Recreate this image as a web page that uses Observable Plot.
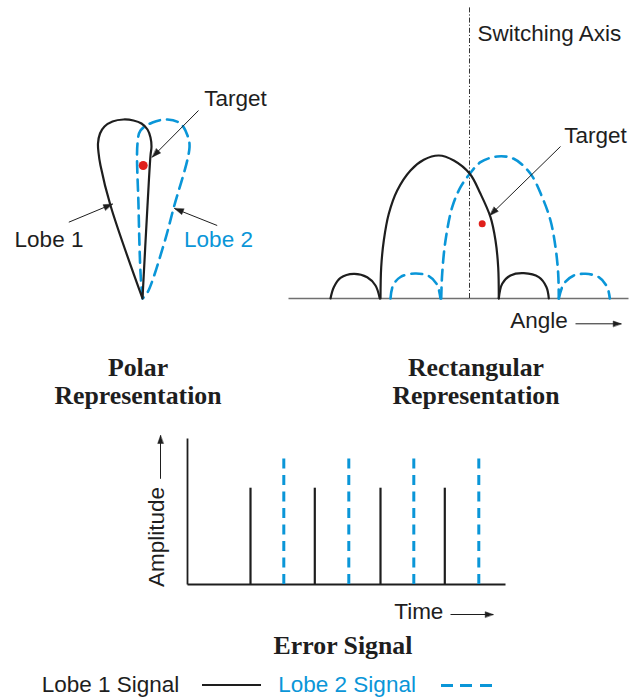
<!DOCTYPE html>
<html><head><meta charset="utf-8">
<script src="https://cdn.jsdelivr.net/npm/d3@7"></script>
<script src="https://cdn.jsdelivr.net/npm/@observablehq/plot@0.6"></script>
<style>
body{margin:0;background:#fff;}
#root{position:relative;width:629px;height:700px;overflow:hidden;background:#fff;}
.t{position:absolute;white-space:nowrap;line-height:1;}
.serif{font-family:"Liberation Serif","Times New Roman",serif;font-weight:bold;font-size:25.8px;color:#1e1e1e;text-align:center;width:300px;}
.sans{font-family:"Liberation Sans",Arial,sans-serif;font-size:22.5px;}
</style></head><body><div id="root"></div>
<script>
const INK = "#1e1e1e", BLUE = "#0a96d8", RED = "#e0201b", GRAY = "#707070";
const SANS = "Liberation Sans, Arial, sans-serif";

// ---------- Polar representation (x: offset, y: gain along boresight) ----------
const polarLobe1 = [[0,0],[-32,93],[-42,133],[-44,146],[-44.5,155],[-42.5,165],[-38,172],[-30,177],[-19,179],[-9,178],[-1,175],[5,169],[8,161],[9,152],[8,143],[5,93],[0,0]];
const polarLobe2 = [[0,0],[-2,26],[-4,93],[-5,155],[-2,168],[10,176],[25,179],[38,175],[45,163],[47,151],[31,90],[21,53],[5,6],[0,0]];
const polarTarget = [{x:0.7, y:133}];
const polarLabelsInk = [{x:93, y:199.5, text:"Target"}, {x:-93.5, y:58.5, text:"Lobe 1"}];
const polarLabelsBlue = [{x:76, y:58.5, text:"Lobe 2"}];
const polarArrows = [{x1:56,y1:188,x2:9.7,y2:141.3},{x1:-73.7,y1:76.3,x2:-30,y2:94.5},{x1:74.7,y1:73,x2:32,y2:90}];

// ---------- Rectangular representation (x: angle, y: gain) ----------
const rectLobe1 = [
  [[-139,0],[-135.7,11.3],[-129,20.7],[-115.7,24.7],[-102.3,21.3],[-94,13],[-89.7,0]],
  [[-89,0],[-88.3,31.3],[-85.7,58],[-80.7,84.7],[-72.3,108],[-59,128],[-45.7,138.7],[-30.7,143],[-15.7,138],[0.3,124.7],[11,104.7],[21,81.3],[26,58],[28.7,31.3],[29.3,0]],
  [[29.3,0],[32.7,14.7],[41,23],[54.3,25.3],[69.3,21.3],[77,11.3],[79.3,0]]
];
const rectLobe2 = [
  [[-79,0],[-76.5,13],[-69,21.5],[-54.5,25],[-41,22.5],[-32.5,14],[-29,0]],
  [[-28.3,0],[-27.3,25],[-24,58],[-17.3,91.3],[-9,111.3],[0.3,124.7],[11,136.3],[27.7,142],[44.3,139.7],[61,124.7],[72.7,101.3],[81,78],[86,51.3],[88.7,24.7],[89.3,0]],
  [[89.3,0],[94.3,14.7],[104.3,23],[116,24.7],[129.3,21.3],[137.7,11.3],[140.3,0]]
];
const angleAxis = [{x1:-181, x2:159, y:0}];
const switchingAxis = [{x:0, y1:0, y2:291}];
const rectTarget = [{x:12.7, y:74.7}];
const rectLabelsMid = [{x:126, y:162.5, text:"Target"}, {x:69.5, y:-22.5, text:"Angle"}];
const rectLabelsStart = [{x:8, y:264.5, text:"Switching Axis"}];
const rectArrows = [{x1:91,y1:152,x2:20.3,y2:83}];
const angleArrow = [{x1:106,y1:-25.3,x2:151.7,y2:-25.3}];

// ---------- Error signal (x: time, y: amplitude) ----------
const lobe1Times = [63, 127.3, 193, 257.3];
const lobe1Amp = 96.3;
const lobe2Times = [96.3, 161.3, 226.3, 291.3];
const lobe2Amp = 130.7;
const timeAxis = [{x1:0, x2:318, y:0}];
const ampAxis = [{x:0, y1:0, y2:146}];
const errLabels = [{x:231.3, y:-27, text:"Time", rotate:0}, {x:-30.5, y:47.5, text:"Amplitude", rotate:-90}];
const errArrows = [{x1:263,y1:-30,x2:305.7,y2:-30},{x1:-27,y1:105.7,x2:-27,y2:149}];

// ---------- titles & legend ----------
const titles = [
  {cx:138, base:377, text:"Polar"}, {cx:138, base:405, text:"Representation"},
  {cx:476, base:377, text:"Rectangular"}, {cx:476, base:405, text:"Representation"},
  {cx:343, base:655, text:"Error Signal"}
];
const legendItems = [
  {label:"Lobe 1 Signal", color:INK, textLeft:41.7, swLeft:202, swWidth:59, dashed:false},
  {label:"Lobe 2 Signal", color:BLUE, textLeft:278.3, swLeft:441, swWidth:51, dashed:true}
];
const legendBase = 693, legendLineY = 685;

const root = document.getElementById("root");

function heads(arrows, len, half) {
  return arrows.flatMap((a, i) => {
    const dx = a.x2 - a.x1, dy = a.y2 - a.y1, L = Math.hypot(dx, dy), ux = dx / L, uy = dy / L;
    const bx = a.x2 - ux * len, by = a.y2 - uy * len;
    return [{x:a.x2, y:a.y2, k:i}, {x:bx - uy * half, y:by + ux * half, k:i}, {x:bx + uy * half, y:by - ux * half, k:i}];
  });
}
function arrowMarks(arrows, len, half) {
  return [
    Plot.link(arrows, {x1:"x1", y1:"y1", x2:"x2", y2:"y2", stroke:INK, strokeWidth:1}),
    Plot.line(heads(arrows, len, half), {x:"x", y:"y", z:"k", curve:"linear-closed", fill:INK, stroke:INK, strokeWidth:0.5})
  ];
}
function lobe(pts, color, dashed, w) {
  return Plot.line(pts, {x:d => d[0], y:d => d[1], curve:"catmull-rom", stroke:color, strokeWidth:w,
    strokeDasharray: dashed ? "11,7" : null, strokeLinejoin:"round"});
}
function panel({left, top, width, height, x, y, marks}) {
  const svg = Plot.plot({width, height, margin:0, x:{domain:x, axis:null}, y:{domain:y, axis:null},
    style:{background:"transparent", overflow:"visible"}, marks});
  svg.style.position = "absolute"; svg.style.left = left + "px"; svg.style.top = top + "px";
  root.appendChild(svg);
}

// Polar panel
panel({left:0, top:80, width:285, height:235, x:[-142,143], y:[-17,218], marks:[
  lobe(polarLobe2, BLUE, true, 2.6),
  lobe(polarLobe1, INK, false, 2.2),
  Plot.dot(polarTarget, {x:"x", y:"y", r:4.5, fill:RED}),
  ...arrowMarks(polarArrows, 9, 3),
  Plot.text(polarLabelsInk, {x:"x", y:"y", text:"text", fill:INK, fontSize:22.5, fontFamily:SANS}),
  Plot.text(polarLabelsBlue, {x:"x", y:"y", text:"text", fill:BLUE, fontSize:22.5, fontFamily:SANS})
]});

// Rectangular panel
panel({left:285, top:0, width:344, height:340, x:[-184,160], y:[-42,298], marks:[
  Plot.link(angleAxis, {x1:"x1", x2:"x2", y1:"y", y2:"y", stroke:GRAY, strokeWidth:1.6}),
  Plot.ruleX(switchingAxis, {x:"x", y1:"y1", y2:"y2", stroke:INK, strokeWidth:0.9, strokeDasharray:"5,2,1.2,2"}),
  ...rectLobe2.map(p => lobe(p, BLUE, true, 2.6)),
  ...rectLobe1.map(p => lobe(p, INK, false, 2.2)),
  Plot.dot(rectTarget, {x:"x", y:"y", r:3.5, fill:RED}),
  ...arrowMarks(rectArrows, 9, 3),
  ...arrowMarks(angleArrow, 8, 2.8),
  Plot.text(rectLabelsMid, {x:"x", y:"y", text:"text", textAnchor:"middle", fill:INK, fontSize:22.5, fontFamily:SANS}),
  Plot.text(rectLabelsStart, {x:"x", y:"y", text:"text", textAnchor:"start", fill:INK, fontSize:22.5, fontFamily:SANS})
]});

// Error signal panel
panel({left:140, top:425, width:370, height:205, x:[-47,323], y:[-46,159], marks:[
  Plot.link(timeAxis, {x1:"x1", x2:"x2", y1:"y", y2:"y", stroke:INK, strokeWidth:1.8}),
  Plot.link(ampAxis, {x1:"x", x2:"x", y1:"y1", y2:"y2", stroke:INK, strokeWidth:1.8}),
  Plot.ruleX(lobe1Times, {x:d => d, y1:0, y2:lobe1Amp, stroke:INK, strokeWidth:2.2}),
  Plot.ruleX(lobe2Times, {x:d => d, y1:0, y2:lobe2Amp, stroke:BLUE, strokeWidth:3, strokeDasharray:"10,6.5"}),
  ...arrowMarks(errArrows, 8, 2.8),
  Plot.text(errLabels, {x:"x", y:"y", text:"text", rotate:"rotate", fill:INK, fontSize:22.5, fontFamily:SANS})
]});

// Titles
for (const t of titles) {
  const d = document.createElement("div");
  d.className = "t serif"; d.textContent = t.text;
  d.style.left = (t.cx - 150) + "px"; d.style.top = (t.base - 0.8375 * 25.8) + "px";
  root.appendChild(d);
}
// Legend
for (const it of legendItems) {
  const d = document.createElement("div");
  d.className = "t sans"; d.textContent = it.label; d.style.color = it.color;
  d.style.left = it.textLeft + "px"; d.style.top = (legendBase - 0.8465 * 22.5) + "px";
  root.appendChild(d);
  const s = document.createElement("div");
  const th = it.dashed ? 3 : 2.5;
  s.style.cssText = `position:absolute;left:${it.swLeft}px;top:${legendLineY - th/2}px;width:${it.swWidth}px;height:${th}px;` +
    (it.dashed ? `background:repeating-linear-gradient(to right, ${it.color} 0 12px, transparent 12px 19.5px);` : `background:${it.color};`);
  root.appendChild(s);
}
</script></body></html>
